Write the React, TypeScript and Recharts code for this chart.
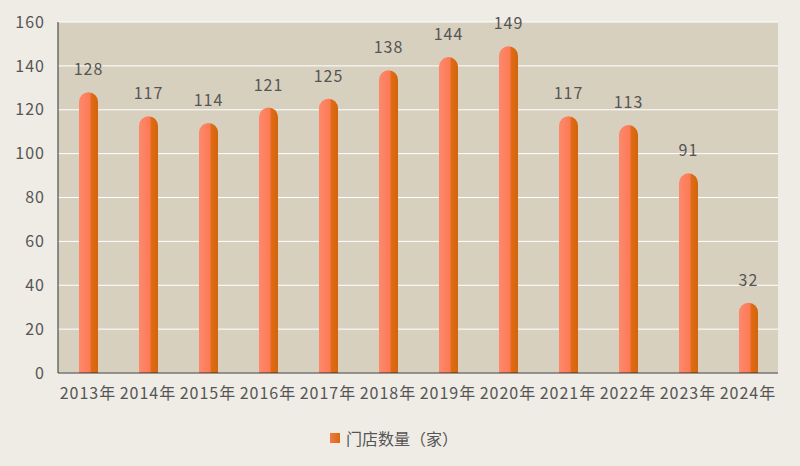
import { BarChart, Bar, XAxis, YAxis, CartesianGrid, Legend, LabelList } from 'recharts';

const years = ['2013年', '2014年', '2015年', '2016年', '2017年', '2018年', '2019年', '2020年', '2021年', '2022年', '2023年', '2024年'];
const storeCounts = [128, 117, 114, 121, 125, 138, 144, 149, 117, 113, 91, 32];
const yTicks = [0, 20, 40, 60, 80, 100, 120, 140, 160];
const seriesName = '门店数量（家）';

const data = years.map((year, i) => ({ year, count: storeCounts[i] }));

const FONT = '"Noto Sans CJK SC", "Noto Sans", sans-serif';
const INK = '#555555';

function Cylinder(props: any) {
  const { x, y, width, height } = props;
  if (!height || height <= 0) return null;
  const r = width / 2;
  const d = `M${x},${y + height} L${x},${y + r} A${r},${r} 0 0 1 ${x + width},${y + r} L${x + width},${y + height} Z`;
  return <path d={d} fill="url(#cyl-fill)" />;
}

function LegendBox() {
  return (
    <div style={{ display: 'flex', justifyContent: 'center', alignItems: 'center', fontFamily: FONT, fontSize: 16, color: INK }}>
      <span style={{ width: 10, height: 10, marginRight: 6, background: 'linear-gradient(90deg, #f07a4a 0%, #d8690f 100%)', display: 'inline-block' }} />
      <span>{seriesName}</span>
    </div>
  );
}

export default function App() {
  return (
    <div style={{ position: 'absolute', left: 0, top: 0, width: 800, height: 466, background: '#efece6' }}>
      <BarChart width={800} height={466} data={data} margin={{ top: 22, right: 22, left: 0, bottom: 63 }}
        style={{ fontFamily: FONT }}>
        <defs>
          <linearGradient id="cyl-fill" x1="0" y1="0" x2="1" y2="0">
            <stop offset="0%" stopColor="#f98a6a" />
            <stop offset="30%" stopColor="#ff8162" />
            <stop offset="58%" stopColor="#fb7a55" />
            <stop offset="64%" stopColor="#de6c16" />
            <stop offset="100%" stopColor="#d4640b" />
          </linearGradient>
        </defs>
        <CartesianGrid vertical={false} stroke="#ffffff" strokeWidth={1} fill="#d8d0bf" fillOpacity={1} />
        <XAxis dataKey="year" interval={0} axisLine={{ stroke: '#333333' }} tickLine={false} tickMargin={9} height={30}
          tick={{ fontSize: 16, fill: INK, letterSpacing: 1 }} />
        <YAxis domain={[0, 160]} ticks={yTicks} width={58} axisLine={{ stroke: '#333333' }} tickLine={false} tickMargin={7}
          tick={{ fontSize: 16, fill: INK, letterSpacing: 1 }} />
        <Legend verticalAlign="middle" align="center" content={<LegendBox />}
          wrapperStyle={{ top: 426, left: -6, width: 800 }} />
        <Bar dataKey="count" name={seriesName} barSize={19} shape={<Cylinder />} isAnimationActive={false}>
          <LabelList dataKey="count" position="top" offset={17} fill={INK} fontSize={16} style={{ letterSpacing: 1 }} />
        </Bar>
      </BarChart>
    </div>
  );
}
